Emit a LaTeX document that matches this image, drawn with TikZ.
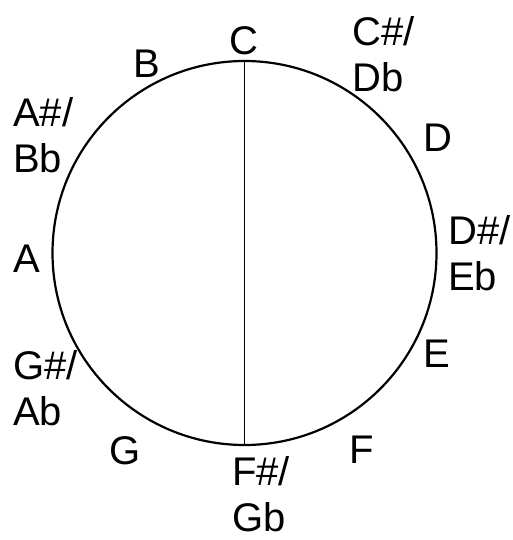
\documentclass[tikz,border=0pt]{standalone}
\usepackage{fontspec}
\setmainfont{Liberation Sans}
\begin{document}
\begin{tikzpicture}[x=1pt,y=-1pt,
  note/.style={inner sep=0,font=\fontsize{40}{46}\selectfont},
  pair/.style={note,anchor=base west,align=left}]
  \useasboundingbox (0,0) rectangle (513,540);
  \node[draw,circle,line width=2.2pt,minimum size=384pt,inner sep=0] (dial) at (244.5,253) {};
  \draw[line width=1.4pt] (dial.north) -- (dial.south);
  % single names
  \node[note,anchor=base] (c) at (244,55) {C};
  \node[note,anchor=base] (d) at (438,152) {D};
  \node[note,anchor=base] (e) at (437,367) {E};
  \node[note,anchor=base] (f) at (362,463) {F};
  \node[note,anchor=base] (g) at (125,464) {G};
  \node[note,anchor=base] (a) at (27,272) {A};
  \node[note,anchor=base] (b) at (147,78) {B};
  % sharps and flats (base is the lower line)
  \node[pair] (csdb) at (352,92) {C\#/\\Db};
  \node[pair] (dseb) at (448,290) {D\#/\\Eb};
  \node[pair] (fsgb) at (232,531) {F\#/\\Gb};
  \node[pair] (gsab) at (13,425) {G\#/\\Ab};
  \node[pair] (asbb) at (13,172) {A\#/\\Bb};
\end{tikzpicture}
\end{document}
